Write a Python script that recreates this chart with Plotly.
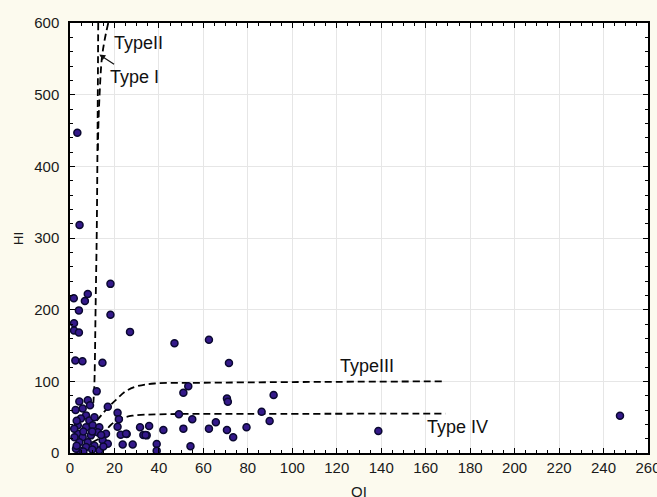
import plotly.graph_objects as go

# ---- data (OI, HI) ----
oi_vals = [3.3, 4.3, 18.2, 1.7, 8, 6.7, 4, 18.2, 1.8, 1.8, 4, 27, 47, 62.5, 71.5, 2.4, 5.6, 14.6,
           12, 17, 21.4, 22, 21.4, 25.5, 22.8, 23.7, 28.2, 31.5, 35.6, 33, 34.5, 42, 39, 39,
           49, 51, 53.2, 51, 54.2, 55, 62.5, 65.6, 70.6, 71, 70.6, 73.4, 79.4, 86.2, 89.8, 91.6,
           138.7, 247.4,
           4.2, 8, 9, 5.7, 7.2, 4.9, 8.7, 11, 3.5, 7.2, 10.2, 13.2, 16.2, 12.4, 3.5, 5.7, 9.4,
           4.2, 8, 14.7, 4.2, 7.2, 13.2, 17, 2.7, 1.9, 25.2, 34,
           2.5, 3, 6, 10, 2, 11, 6, 10, 3, 14, 15]
hi_vals = [447, 318, 236, 216, 222, 212, 199, 193, 181, 171, 168, 169, 153, 158, 125.5, 129, 128, 126,
           86, 64.6, 56, 47, 36.7, 26.5, 25.6, 12, 12, 36, 37.6, 25, 24.6, 32, 12.6, 3,
           54, 84, 93, 34, 9.5, 47, 34, 42.8, 76, 71.6, 32, 22, 35.8, 57.6, 44.6, 81,
           30.7, 52,
           72, 73.5, 66.5, 62, 52.5, 48, 45.5, 50, 38.6, 36, 38.6, 36, 27, 29, 27, 22, 24.6,
           15, 15, 17.7, 3.7, 8.4, 3.7, 13, 6, 34, 27, 25,
           60, 45, 30, 30, 22, 10, 2, 5, 10, 25, 9]

# ---- kerogen type boundary curves ----
type1_oi = [12.7, 12.5, 12.3, 12.0, 11.5, 11.2, 10.9, 10.5]
type1_hi = [600, 500, 400, 300, 200, 130, 90, 70]
type2_oi = [17.2, 15.5, 14.3, 13.3, 12.8, 12.5]
type2_hi = [600, 575, 550, 500, 460, 420]
type3_oi = [12, 17, 21, 25, 30, 38, 60, 100, 169]
type3_hi = [45, 63, 75, 86, 93, 97, 98, 99, 100]
type4_oi = [10, 14, 18, 22, 28, 40, 80, 169]
type4_hi = [15, 22, 38, 47, 52, 54, 54.5, 55]

x_ticks = list(range(0, 261, 20))
y_ticks = list(range(0, 601, 100))

fig = go.Figure()

dash_style = dict(color="black", width=1.8, dash="7px,4px")
for xs, ys in [(type1_oi, type1_hi), (type2_oi, type2_hi), (type3_oi, type3_hi), (type4_oi, type4_hi)]:
    fig.add_trace(go.Scatter(x=xs, y=ys, mode="lines", line=dict(shape="spline", **dash_style),
                             hoverinfo="skip", showlegend=False))

fig.add_trace(go.Scatter(x=oi_vals, y=hi_vals, mode="markers",
                         marker=dict(size=7, color="#34198a", line=dict(color="#0a0830", width=1.5)),
                         showlegend=False))

label_font = dict(family="Liberation Sans, Arial, sans-serif", size=18, color="#111")
fig.add_annotation(x=19, y=572, text="TypeII", showarrow=False, xanchor="left", font=label_font)
fig.add_annotation(x=17, y=524, text="Type I", showarrow=False, xanchor="left", font=label_font)
fig.add_annotation(x=13.2, y=556, ax=20.5, ay=541, axref="x", ayref="y", text="",
                   showarrow=True, arrowhead=2, arrowsize=1, arrowwidth=1.2, arrowcolor="#111")
fig.add_annotation(x=133.6, y=121, text="TypeIII", showarrow=False, font=label_font)
fig.add_annotation(x=174.5, y=36, text="Type IV", showarrow=False, font=label_font)

axis_font = dict(family="Liberation Sans, Arial, sans-serif", size=15, color="#1a1a1a")
fig.add_annotation(xref="paper", yref="paper", x=0.5, y=-0.066, yanchor="top", text="OI",
                   showarrow=False, font=axis_font)
fig.add_annotation(xref="paper", yref="paper", x=-0.09, y=0.5, xanchor="center", text="HI", textangle=-90,
                   showarrow=False, font=dict(family="Liberation Sans, Arial, sans-serif", size=13, color="#1a1a1a"))

common = dict(showline=True, linecolor="black", linewidth=1.5, mirror="ticks",
              ticks="inside", ticklen=5, tickcolor="black", tickfont=axis_font,
              showgrid=True, gridcolor="#e6e6e6", gridwidth=1, zeroline=False,
              ticklabeloverflow="allow", automargin=False)

fig.update_xaxes(range=[0, 260], tickvals=x_ticks, ticklabelstandoff=0,
                 minor=dict(dtick=5, ticks="inside", ticklen=3, tickcolor="black", showgrid=False),
                 **common)
fig.update_yaxes(range=[0, 600], tickvals=y_ticks, ticklabelstandoff=6,
                 minor=dict(dtick=20, ticks="inside", ticklen=3, tickcolor="black", showgrid=False),
                 **common)

fig.update_layout(width=657, height=497, margin=dict(l=70, r=9, t=23, b=44, autoexpand=False),
                  paper_bgcolor="#fcfaee", plot_bgcolor="white", showlegend=False)

fig.write_html("out.html", config={"displayModeBar": False},
               post_script="document.body.style.margin='0';document.body.style.background='#fcfaee';document.body.style.overflow='hidden';")
